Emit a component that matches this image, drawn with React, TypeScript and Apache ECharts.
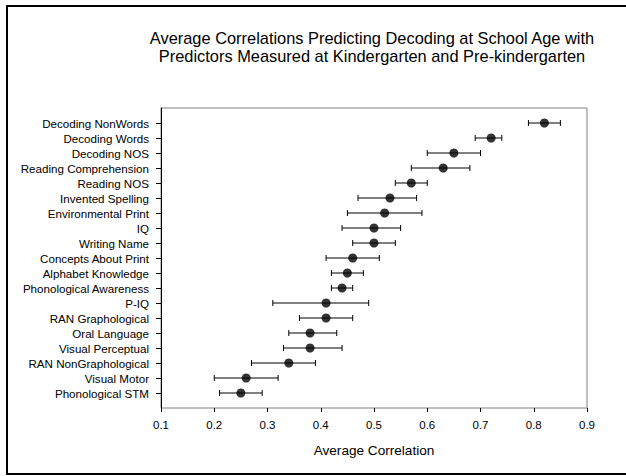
import React, { useEffect, useRef } from "react";
import * as echarts from "echarts";

const categories = [
  "Decoding NonWords",
  "Decoding Words",
  "Decoding NOS",
  "Reading Comprehension",
  "Reading NOS",
  "Invented Spelling",
  "Environmental Print",
  "IQ",
  "Writing Name",
  "Concepts About Print",
  "Alphabet Knowledge",
  "Phonological Awareness",
  "P-IQ",
  "RAN Graphological",
  "Oral Language",
  "Visual Perceptual",
  "RAN NonGraphological",
  "Visual Motor",
  "Phonological STM",
];
const means = [0.82, 0.72, 0.65, 0.63, 0.57, 0.53, 0.52, 0.5, 0.5, 0.46, 0.45, 0.44, 0.41, 0.41, 0.38, 0.38, 0.34, 0.26, 0.25];
const lows = [0.79, 0.69, 0.6, 0.57, 0.54, 0.47, 0.45, 0.44, 0.46, 0.41, 0.42, 0.42, 0.31, 0.36, 0.34, 0.33, 0.27, 0.2, 0.21];
const highs = [0.85, 0.74, 0.7, 0.68, 0.6, 0.58, 0.59, 0.55, 0.54, 0.51, 0.48, 0.46, 0.49, 0.46, 0.43, 0.44, 0.39, 0.32, 0.29];
const xTicks = [0.1, 0.2, 0.3, 0.4, 0.5, 0.6, 0.7, 0.8, 0.9];

const FONT = "'Liberation Sans', Arial, sans-serif";

export default function App() {
  const ref = useRef<HTMLDivElement>(null);
  useEffect(() => {
    if (!ref.current) return;
    const chart = echarts.init(ref.current, null, { renderer: "svg" });
    const yCats = ["", ...categories, ""];
    const n = yCats.length;
    chart.setOption({
      animation: false,
      backgroundColor: "#fff",
      textStyle: { fontFamily: FONT },
      title: {
        text: "Average Correlations Predicting Decoding at School Age with\nPredictors Measured at Kindergarten and Pre-kindergarten",
        left: 372,
        top: 29,
        padding: 0,
        textAlign: "center",
        textStyle: { fontFamily: FONT, fontSize: 16.4, fontWeight: "normal", color: "#000", lineHeight: 18 },
      },
      graphic: [
        {
          type: "rect",
          shape: { x: 7, y: 6, width: 640, height: 468 },
          style: { fill: "none", stroke: "#000", lineWidth: 2 },
          silent: true,
        },
      ],
      grid: {
        left: 161,
        right: 39,
        top: 108,
        bottom: 68,
        show: true,
        borderColor: "#808080",
        borderWidth: 1,
        backgroundColor: "transparent",
      },
      xAxis: {
        type: "value",
        min: 0.1,
        max: 0.9,
        interval: 0.1,
        name: "Average Correlation",
        nameLocation: "middle",
        nameGap: 35,
        nameTextStyle: { fontFamily: FONT, fontSize: 13.6, color: "#000" },
        splitLine: { show: false },
        axisLine: { lineStyle: { color: "#000", width: 1 } },
        axisTick: { show: true, length: 4, lineStyle: { color: "#000" } },
        axisLabel: {
          fontFamily: FONT,
          fontSize: 11.5,
          color: "#000",
          margin: 11,
          showMinLabel: true,
          showMaxLabel: true,
          formatter: (v: number) => {
            const t = xTicks.find((x) => Math.abs(x - v) < 1e-6);
            return t !== undefined ? t.toFixed(1) : "";
          },
        },
      },
      yAxis: {
        type: "category",
        data: yCats,
        inverse: true,
        boundaryGap: false,
        axisLine: { lineStyle: { color: "#000", width: 1 } },
        axisTick: {
          show: true,
          length: 5,
          interval: (i: number) => i > 0 && i < n - 1,
          lineStyle: { color: "#000" },
        },
        axisLabel: { fontFamily: FONT, fontSize: 11.6, color: "#000", margin: 12, interval: 0 },
        splitLine: { show: false },
      },
      series: [
        {
          type: "custom",
          data: categories.map((_, i) => [lows[i], highs[i], i + 1]),
          encode: { x: [0, 1], y: 2 },
          renderItem: (params: any, api: any) => {
            const y = api.value(2);
            const p1 = api.coord([api.value(0), y]);
            const p2 = api.coord([api.value(1), y]);
            const cap = 3;
            const style = { stroke: "#000", lineWidth: 1, fill: "none" };
            return {
              type: "group",
              children: [
                { type: "line", shape: { x1: p1[0], y1: p1[1], x2: p2[0], y2: p2[1] }, style },
                { type: "line", shape: { x1: p1[0], y1: p1[1] - cap, x2: p1[0], y2: p1[1] + cap }, style },
                { type: "line", shape: { x1: p2[0], y1: p2[1] - cap, x2: p2[0], y2: p2[1] + cap }, style },
              ],
            };
          },
          z: 2,
        },
        {
          type: "scatter",
          data: categories.map((_, i) => [means[i], i + 1]),
          symbol: "circle",
          symbolSize: 9,
          itemStyle: { color: "#000" },
          z: 3,
        },
      ],
    });
    return () => chart.dispose();
  }, []);
  return (
    <div
      ref={ref}
      style={{ position: "fixed", left: 0, top: 0, width: 626, height: 476 }}
    />
  );
}
